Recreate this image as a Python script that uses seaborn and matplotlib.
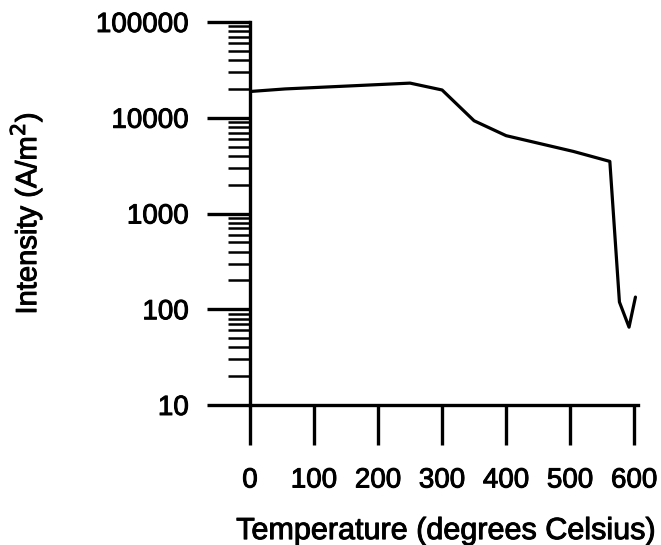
import matplotlib
matplotlib.use("Agg")
import matplotlib.pyplot as plt
import matplotlib.patheffects as pe
import seaborn as sns
import pandas as pd
from matplotlib.ticker import LogLocator, FixedLocator, NullFormatter

temperature = [0, 55, 250, 300, 350, 400, 505, 562, 577, 592, 602]
intensity = [18800, 20000, 23000, 19500, 9300, 6500, 4450, 3500, 119, 65, 134]
x_ticks = [0, 100, 200, 300, 400, 500, 600]
y_ticks = [10, 100, 1000, 10000, 100000]
y_tick_labels = ["10", "100", "1000", "10000", "100000"]

sns.set_style("white")
plt.rcParams['font.family'] = ['Liberation Sans', 'DejaVu Sans']
plt.rcParams['text.color'] = 'black'
plt.rcParams['axes.labelcolor'] = 'black'
plt.rcParams['xtick.color'] = 'black'
plt.rcParams['ytick.color'] = 'black'

df = pd.DataFrame({"Temperature": temperature, "Intensity": intensity})

fig = plt.figure(figsize=(6.61, 5.45), dpi=100)
ax = fig.add_axes([250/661, 1-405/545, (638-250)/661, (405-22)/545])
sns.lineplot(data=df, x="Temperature", y="Intensity", sort=False, color="black",
             linewidth=2.3, ax=ax)
ax.set_yscale("log")
ax.set_ylim(10, 100000)
ax.set_xlim(0, 606)

ax.yaxis.set_major_locator(FixedLocator(y_ticks))
ax.set_yticklabels(y_tick_labels)
ax.yaxis.set_minor_locator(LogLocator(base=10, subs=range(2, 10)))
ax.yaxis.set_minor_formatter(NullFormatter())
ax.set_xticks(x_ticks)
ax.set_xticklabels([str(v) for v in x_ticks])

for side in ["top", "right"]:
    ax.spines[side].set_visible(False)
for side in ["left", "bottom"]:
    ax.spines[side].set_linewidth(2.4)
    ax.spines[side].set_color("black")

ax.tick_params(axis="y", which="major", direction="out", length=31, width=2.4,
               labelsize=20, pad=13, left=True, colors="black")
ax.tick_params(axis="y", which="minor", direction="out", length=16, width=1.8, left=True,
               colors="black")
ax.tick_params(axis="x", which="major", direction="out", length=29, width=2.4,
               labelsize=20, pad=16, bottom=True, colors="black")

ax.set_xlabel("Temperature (degrees Celsius)", fontsize=22)
ax.set_ylabel("Intensity (A/m$^2$)", fontsize=21)
ax.xaxis.set_label_coords(0.503, -0.29)
ax.yaxis.set_label_coords(-0.53, 0.5)

stroke = [pe.withStroke(linewidth=0.7, foreground="black")]
for t in ax.get_xticklabels() + ax.get_yticklabels() + [ax.xaxis.label, ax.yaxis.label]:
    t.set_path_effects(stroke)

fig.savefig("out.png", dpi=100)
